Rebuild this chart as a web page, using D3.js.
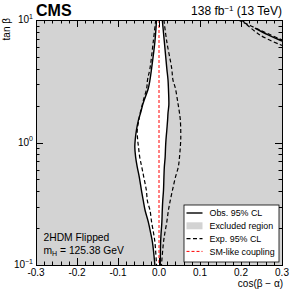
<!DOCTYPE html>
<html>
<head>
<meta charset="utf-8">
<script src="https://cdn.jsdelivr.net/npm/d3@7"></script>
<style>
  body { margin: 0; background: #fff; }
  svg { font-family: "Liberation Sans", Arial, Helvetica, sans-serif; }
</style>
</head>
<body>
<div id="chart"></div>
<script>
// tan(beta) grid shared by all central contours
const tanGrid = [10, 6.65, 4.03, 3.24, 2.77, 2.22, 2.02, 1.74, 1.53, 1.26, 1.05, 0.92, 0.76, 0.63, 0.52, 0.41, 0.33, 0.28, 0.224, 0.18, 0.154, 0.1];
// observed 95% CL, left / right branch (cos(beta-alpha))
const obsLow = [-0.006, -0.010, -0.018, -0.022, -0.026, -0.036, -0.040, -0.045, -0.050, -0.055, -0.058, -0.059, -0.057, -0.053, -0.048, -0.043, -0.038, -0.034, -0.026, -0.020, -0.016, -0.010];
const obsHigh = [0.008, 0.013, 0.019, 0.022, 0.023, 0.024, 0.024, 0.022, 0.021, 0.019, 0.017, 0.016, 0.015, 0.013, 0.012, 0.011, 0.009, 0.008, 0.007, 0.005, 0.004, 0.003];
// expected 95% CL
const expLow = [-0.008, -0.014, -0.022, -0.028, -0.030, -0.038, -0.041, -0.046, -0.049, -0.053, -0.052, -0.050, -0.047, -0.042, -0.037, -0.031, -0.028, -0.022, -0.018, -0.013, -0.010, -0.006];
const expHigh = [0.012, 0.019, 0.031, 0.034, 0.040, 0.045, 0.047, 0.050, 0.052, 0.053, 0.053, 0.052, 0.050, 0.047, 0.040, 0.033, 0.027, 0.023, 0.019, 0.014, 0.011, 0.006];
// top-right corner contours [cos, tan]
const cornerExpOuter = [[0.193, 10], [0.246, 8.29], [0.3, 6.87]];
const cornerExpInner = [[0.202, 10], [0.246, 7.55], [0.3, 6.2]];
const cornerObs = [[0.234, 8.6], [0.265, 7.6], [0.3, 6.74]];

const xTicks = [-0.3, -0.2, -0.1, 0.0, 0.1, 0.2, 0.3];
const yTicks = [0.1, 1, 10];
const yTickExp = ['\u22121', '0', '1'];
const legendItems = ['Obs. 95% CL', 'Excluded region', 'Exp. 95% CL', 'SM-like coupling'];

const W = 293, H = 293;
const margin = { top: 20, right: 11, bottom: 28, left: 36 };
const width = W - margin.left - margin.right;
const height = H - margin.top - margin.bottom;
const grey = '#d3d3d3';

const svg = d3.select('#chart').append('svg')
  .attr('width', W)
  .attr('height', H);

const xScale = d3.scaleLinear().domain([-0.3, 0.3]).range([0, width]);
const yScale = d3.scaleLog().domain([0.1, 10]).range([height, 0]);

const g = svg.append('g')
  .attr('transform', `translate(${margin.left},${margin.top})`);

g.append('clipPath').attr('id', 'clip')
  .append('rect').attr('width', width).attr('height', height);

const plot = g.append('g').attr('clip-path', 'url(#clip)');

// excluded background
plot.append('rect')
  .attr('width', width)
  .attr('height', height)
  .attr('fill', grey);

const obsArea = d3.area()
  .curve(d3.curveCatmullRom)
  .y((d, i) => yScale(tanGrid[i]))
  .x0((d, i) => xScale(obsLow[i]))
  .x1((d, i) => xScale(obsHigh[i]));

const expArea = d3.area()
  .curve(d3.curveCatmullRom)
  .y((d, i) => yScale(tanGrid[i]))
  .x0((d, i) => xScale(expLow[i]))
  .x1((d, i) => xScale(expHigh[i]));

// allowed region (white)
plot.append('path')
  .attr('d', obsArea(tanGrid))
  .attr('fill', '#fff');

const solid = { stroke: '#000', 'stroke-width': 1.4, fill: 'none' };
const dashed = { stroke: '#000', 'stroke-width': 1.2, fill: 'none', 'stroke-dasharray': '4,2.5' };

function styled(sel, st) {
  Object.keys(st).forEach(k => sel.attr(k, st[k]));
  return sel;
}

styled(plot.append('path').attr('d', expArea.lineX0()(tanGrid)), dashed);
styled(plot.append('path').attr('d', expArea.lineX1()(tanGrid)), dashed);
styled(plot.append('path').attr('d', obsArea.lineX0()(tanGrid)), solid);
styled(plot.append('path').attr('d', obsArea.lineX1()(tanGrid)), solid);

const pairLine = d3.line()
  .curve(d3.curveCatmullRom)
  .x(d => xScale(d[0]))
  .y(d => yScale(d[1]));

styled(plot.append('path').attr('d', pairLine(cornerExpOuter)), dashed);
styled(plot.append('path').attr('d', pairLine(cornerExpInner)), dashed);
styled(plot.append('path').attr('d', pairLine(cornerObs)), solid);

// SM-like line
plot.append('line')
  .attr('x1', xScale(0)).attr('x2', xScale(0))
  .attr('y1', 0).attr('y2', height)
  .attr('stroke', '#ff0000')
  .attr('stroke-width', 1)
  .attr('stroke-dasharray', '3,2');

// ticks (inside, all four sides)
const xMinor = d3.range(-0.3, 0.3001, 0.02);
const axisG = g.append('g').attr('stroke', '#000').attr('stroke-width', 1);
xMinor.forEach((v) => {
  const major = Math.abs(Math.round(v * 10) - v * 10) < 1e-6;
  const len = major ? 7 : 3.5;
  const x = Math.round(xScale(v)) + 0.5;
  axisG.append('line').attr('x1', x).attr('x2', x).attr('y1', height).attr('y2', height - len);
  axisG.append('line').attr('x1', x).attr('x2', x).attr('y1', 0).attr('y2', len);
});
const yMinor = [];
[0.1, 1].forEach((dec) => {
  for (let k = 1; k <= 9; k += 1) yMinor.push(dec * k);
});
yMinor.push(10);
yMinor.forEach((v) => {
  const major = yTicks.some(t => Math.abs(t - v) < 1e-9);
  const len = major ? 7 : 3.5;
  const y = Math.round(yScale(v)) + 0.5;
  axisG.append('line').attr('x1', 0).attr('x2', len).attr('y1', y).attr('y2', y);
  axisG.append('line').attr('x1', width).attr('x2', width - len).attr('y1', y).attr('y2', y);
});

// frame
g.append('rect')
  .attr('x', 0.5).attr('y', 0.5)
  .attr('width', width).attr('height', height)
  .attr('fill', 'none')
  .attr('stroke', '#000')
  .attr('stroke-width', 1);

// tick labels
g.selectAll('.xlab')
  .data(xTicks)
  .enter().append('text')
  .attr('class', 'xlab')
  .attr('x', d => xScale(d))
  .attr('y', height + 10.5)
  .attr('text-anchor', 'middle')
  .attr('font-size', 10)
  .text(d => (d < 0 ? '-' : '') + Math.abs(d).toFixed(1));

yTicks.forEach((t, i) => {
  const txt = g.append('text')
    .attr('x', -3)
    .attr('y', yScale(t) + 3)
    .attr('text-anchor', 'end')
    .attr('font-size', 10);
  txt.append('tspan').text('10');
  txt.append('tspan').attr('dy', -4.5).attr('font-size', 7).text(yTickExp[i]);
});

// axis titles
svg.append('text')
  .attr('x', 283)
  .attr('y', 287)
  .attr('text-anchor', 'end')
  .attr('font-size', 10)
  .text('cos(\u03b2 \u2212 \u03b1)');

svg.append('text')
  .attr('transform', 'translate(10,18) rotate(-90)')
  .attr('text-anchor', 'end')
  .attr('font-size', 10)
  .text('tan \u03b2');

// header
svg.append('text')
  .attr('x', 36)
  .attr('y', 15.5)
  .attr('font-size', 16)
  .attr('font-weight', 'bold')
  .text('CMS');

const lumi = svg.append('text')
  .attr('x', 282)
  .attr('y', 15)
  .attr('text-anchor', 'end')
  .attr('font-size', 12);
lumi.append('tspan').text('138 fb');
lumi.append('tspan').attr('dy', -4.5).attr('font-size', 8).text('\u22121');
lumi.append('tspan').attr('dy', 4.5).text(' (13 TeV)');

// model text
svg.append('text')
  .attr('x', 43.5).attr('y', 241)
  .attr('font-size', 10.3)
  .text('2HDM Flipped');
const mh = svg.append('text')
  .attr('x', 43.5).attr('y', 253.5)
  .attr('font-size', 10.3);
mh.append('tspan').text('m');
mh.append('tspan').attr('dy', 2.5).attr('font-size', 7).text('H');
mh.append('tspan').attr('dy', -2.5).text(' = 125.38 GeV');

// legend
const leg = svg.append('g').attr('transform', 'translate(183.5,204.5)');
leg.append('rect')
  .attr('x', 0.5).attr('y', 0.5)
  .attr('width', 95).attr('height', 57)
  .attr('fill', '#fff')
  .attr('stroke', '#000')
  .attr('stroke-width', 0.8);

legendItems.forEach((name, i) => {
  const y = 8.5 + i * 12.8;
  if (i === 0) {
    styled(leg.append('line').attr('x1', 3).attr('x2', 19).attr('y1', y).attr('y2', y), solid);
  } else if (i === 1) {
    leg.append('rect').attr('x', 3).attr('y', y - 3.5).attr('width', 16).attr('height', 7).attr('fill', grey);
  } else if (i === 2) {
    styled(leg.append('line').attr('x1', 3).attr('x2', 19).attr('y1', y).attr('y2', y), dashed);
  } else {
    leg.append('line').attr('x1', 3).attr('x2', 19).attr('y1', y).attr('y2', y)
      .attr('stroke', '#ff0000').attr('stroke-width', 1).attr('stroke-dasharray', '3,2');
  }
  leg.append('text')
    .attr('x', 26)
    .attr('y', y + 3.2)
    .attr('font-size', 8.9)
    .text(name);
});
</script>
</body>
</html>
